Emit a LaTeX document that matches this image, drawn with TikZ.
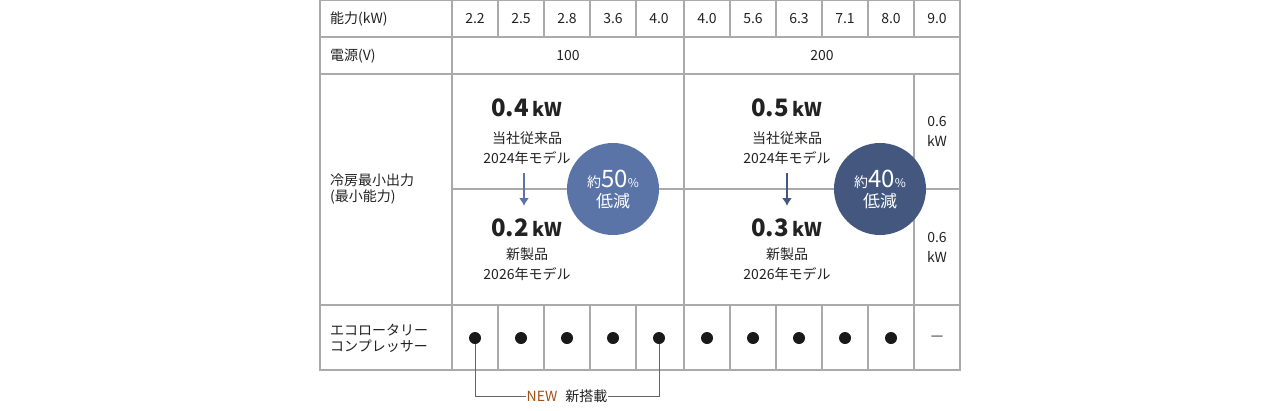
\documentclass[tikz,border=0pt]{standalone}
\usepackage{fontspec}
\usetikzlibrary{arrows.meta}
\setmainfont{Noto Sans CJK JP}
\definecolor{ln}{HTML}{AAAAAA}
\definecolor{tx}{HTML}{222222}
\definecolor{bA}{HTML}{5A74A8}
\definecolor{bB}{HTML}{44587F}
\definecolor{nw}{HTML}{A0501A}
\begin{document}
\begin{tikzpicture}[x=1pt,y=-1pt,
 t/.style={font=\fontsize{14}{16}\selectfont,text=tx,inner sep=0pt},
 lb/.style={t,anchor=west,align=left},
 big/.style={font=\fontsize{24}{26}\selectfont\bfseries,text=tx,inner sep=0pt},
 sm/.style={t,align=center,font=\fontsize{14}{20}\selectfont},
 dot/.style={circle,fill=black!90,inner sep=0pt,minimum size=12pt},
 g/.style={draw=ln,line width=1.2pt}]
\useasboundingbox (0,0) rectangle (1280,410);
% grid
\draw[g] (320,0) rectangle (960,370);
\foreach \y in {37,74,305} \draw[g] (320,\y) -- (960,\y);
\draw[g] (452,0) -- (452,370);
\draw[g] (452,189) -- (960,189);
\draw[g] (684,0) -- (684,370);
\draw[g] (914,0) -- (914,37) (914,74) -- (914,370);
\foreach \x in {498,544,590,636,730,776,822,868} {\draw[g] (\x,0) -- (\x,37); \draw[g] (\x,305) -- (\x,370);}
% labels
\node[lb] (l1) at (330,19) {能力(kW)};
\node[lb] (l2) at (330,56) {電源(V)};
\node[lb] (l3) at (330,189) {冷房最小出力\\(最小能力)};
\node[lb] (l4) at (330,338) {エコロータリー\\コンプレッサー};
\foreach \v/\x [count=\i] in {2.2/475,2.5/521,2.8/567,3.6/613,4.0/659,4.0/707,5.6/753,6.3/799,7.1/845,8.0/891,9.0/937}
 \node[t] (c\i) at (\x,19) {\v};
\node[t] (v1) at (568,56) {100};
\node[t] (v2) at (822,56) {200};
% 100V block
\node[big] (a1) at (527,108) {0.4\,{\fontsize{19}{20}\selectfont kW}};
\node[sm] (a2) at (527,148) {当社従来品\\2024年モデル};
\node[big] (a3) at (527,228) {0.2\,{\fontsize{19}{20}\selectfont kW}};
\node[sm] (a4) at (527,264) {新製品\\2026年モデル};
\draw[bA,line width=2pt,-{Latex[length=8pt,width=10pt]}] (524,173) -- (524,206);
\node[circle,fill=bA,minimum size=92pt,inner sep=0pt,text=white,align=center,font=\fontsize{17}{20}\selectfont] (r1) at (613,189)
 {{\fontsize{14}{14}\selectfont 約}{\fontsize{24}{24}\selectfont 50}{\fontsize{12}{12}\selectfont \%}\\低減};
% 200V block
\node[big] (b1) at (787,108) {0.5\,{\fontsize{19}{20}\selectfont kW}};
\node[sm] (b2) at (787,148) {当社従来品\\2024年モデル};
\node[big] (b3) at (787,228) {0.3\,{\fontsize{19}{20}\selectfont kW}};
\node[sm] (b4) at (787,264) {新製品\\2026年モデル};
\draw[bB,line width=2pt,-{Latex[length=8pt,width=10pt]}] (787,173) -- (787,206);
\node[circle,fill=bB,minimum size=92pt,inner sep=0pt,text=white,align=center,font=\fontsize{17}{20}\selectfont] (r2) at (880,189)
 {{\fontsize{14}{14}\selectfont 約}{\fontsize{24}{24}\selectfont 40}{\fontsize{12}{12}\selectfont \%}\\低減};
\node[sm] (d1) at (937,131) {0.6\\kW};
\node[sm] (d2) at (937,247) {0.6\\kW};
% dots
\foreach \x [count=\i] in {475,521,567,613,659,707,753,799,845,891}
 \node[dot] (p\i) at (\x,338) {};
\node[t] (dash) at (937,338) {—};
% bracket
\node[t,anchor=center] (nn) at (567,396) {\textcolor{nw}{NEW}\hspace{8pt}新搭載};
\draw[draw=black!60,line width=1pt] (p1) -- (475,396) -- (nn.west);
\draw[draw=black!60,line width=1pt] (p5) -- (659,396) -- (nn.east);
\end{tikzpicture}
\end{document}
